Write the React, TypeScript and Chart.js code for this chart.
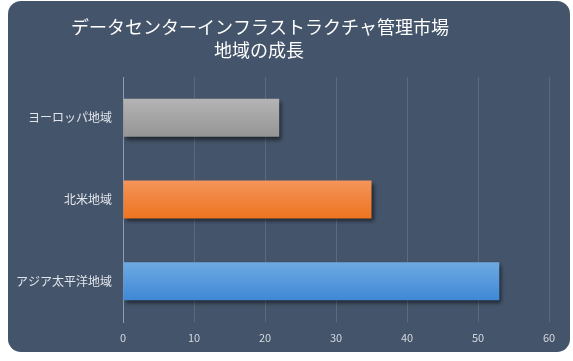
import React, { useEffect, useRef } from "react";
import { Chart, registerables } from "chart.js";

Chart.register(...registerables);

const categories = ["ヨーロッパ地域", "北米地域", "アジア太平洋地域"];
const values = [22, 35, 53];
const titleLines = ["データセンターインフラストラクチャ管理市場", "地域の成長"];
const xTickMax = 60;
const xTickStep = 10;
const barTopColors = ["#b4b4b4", "#f4955b", "#6eaae3"];
const barBottomColors = ["#959595", "#ed731f", "#3f88d5"];

const FONT = "'Noto Sans CJK JP', 'Noto Sans', sans-serif";

const cardPlugin = {
  id: "card",
  beforeDraw(chart: any) {
    const ctx = chart.ctx;
    ctx.save();
    ctx.fillStyle = "#ffffff";
    ctx.fillRect(0, 0, chart.width, chart.height);
    ctx.beginPath();
    ctx.roundRect(8, 1, 562, 351, 13);
    ctx.fillStyle = "#44546a";
    ctx.fill();
    ctx.restore();
  },
  afterDraw(chart: any) {
    const ctx = chart.ctx;
    ctx.save();
    ctx.fillStyle = "#ffffff";
    ctx.font = "18px " + FONT;
    ctx.textAlign = "center";
    ctx.textBaseline = "middle";
    ctx.fillText(titleLines[0], 260, 27);
    ctx.fillText(titleLines[1], 259, 50);
    ctx.restore();
  },
};

const barStylePlugin = {
  id: "barStyle",
  beforeDatasetsDraw(chart: any) {
    const ctx = chart.ctx;
    const meta = chart.getDatasetMeta(0);
    meta.data.forEach((el: any, i: number) => {
      const h = el.height;
      const g = ctx.createLinearGradient(0, el.y - h / 2, 0, el.y + h / 2);
      g.addColorStop(0, barTopColors[i]);
      g.addColorStop(1, barBottomColors[i]);
      el.options.backgroundColor = g;
    });
  },
  beforeDatasetDraw(chart: any) {
    const ctx = chart.ctx;
    ctx.save();
    ctx.shadowColor = "rgba(0,0,0,0.55)";
    ctx.shadowOffsetX = 2;
    ctx.shadowOffsetY = 3;
    ctx.shadowBlur = 4;
  },
  afterDatasetDraw(chart: any) {
    chart.ctx.restore();
  },
};

export default function App() {
  const ref = useRef<HTMLCanvasElement | null>(null);
  useEffect(() => {
    if (!ref.current) return;
    const chart = new Chart(ref.current, {
      type: "bar",
      data: {
        labels: categories,
        datasets: [
          {
            data: values,
            backgroundColor: barBottomColors,
            borderWidth: 0,
            categoryPercentage: 1,
            barPercentage: 0.465,
          },
        ],
      },
      options: {
        indexAxis: "y",
        responsive: false,
        animation: false,
        devicePixelRatio: 1,
        layout: { padding: { top: 77, left: 0, right: 24, bottom: 9 } },
        plugins: {
          legend: { display: false },
          title: { display: false },
          tooltip: { enabled: false },
        },
        scales: {
          x: {
            min: 0,
            max: xTickMax,
            ticks: {
              stepSize: xTickStep,
              color: "#d4d8de",
              font: { family: FONT, size: 11 },
              padding: 9,
              maxRotation: 0,
            },
            grid: { color: "rgba(255,255,255,0.13)", drawTicks: false },
            border: { display: false },
            afterFit(scale: any) {
              scale.height = 30;
            },
          },
          y: {
            ticks: {
              color: "#e2e5ea",
              font: { family: FONT, size: 12 },
              padding: 11,
            },
            grid: { display: false, drawTicks: false },
            border: { display: true, color: "#8d9cb2", width: 1 },
            afterFit(scale: any) {
              scale.width = 123;
            },
          },
        },
      },
      plugins: [cardPlugin, barStylePlugin],
    } as any);
    return () => chart.destroy();
  }, []);
  return (
    <div style={{ position: "absolute", left: 0, top: 0, width: 573, height: 361 }}>
      <canvas ref={ref} width={573} height={361} style={{ width: 573, height: 361 }} />
    </div>
  );
}
